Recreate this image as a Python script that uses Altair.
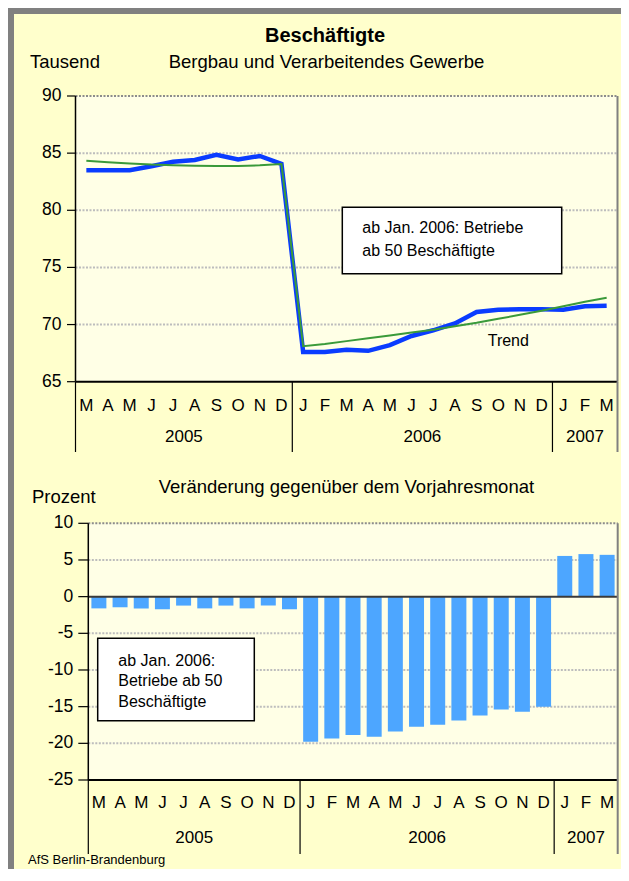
import altair as alt
import pandas as pd

FONT = "Liberation Sans"

# ---------------- data ----------------
months = ["M", "A", "M", "J", "J", "A", "S", "O", "N", "D",
          "J", "F", "M", "A", "M", "J", "J", "A", "S", "O", "N", "D",
          "J", "F", "M"]
years = ["2005", "2006", "2007"]
year_start = [0, 10, 22]
year_end = [10, 22, 25]

employed = [83.5, 83.5, 83.5, 83.85, 84.25, 84.4, 84.85, 84.45, 84.75, 84.05,
            67.6, 67.6, 67.8, 67.7, 68.2, 69.0, 69.5, 70.1, 71.1, 71.3, 71.35, 71.35,
            71.3, 71.6, 71.65]
trend = [84.33, 84.2, 84.1, 84.0, 83.95, 83.9, 83.88, 83.88, 83.93, 84.05,
         68.1, 68.3, 68.55, 68.8, 69.05, 69.3, 69.55, 69.85, 70.15, 70.5, 70.85, 71.2,
         71.6, 72.0, 72.35]
change = [-1.6, -1.45, -1.6, -1.72, -1.22, -1.6, -1.22, -1.6, -1.22, -1.72,
          -19.8, -19.35, -18.85, -19.1, -18.4, -17.75, -17.45, -16.9, -16.2, -15.4, -15.7, -15.0,
          5.55, 5.8, 5.7]

top_ticks = [65, 70, 75, 80, 85, 90]
bottom_ticks = [-25, -20, -15, -10, -5, 0, 5, 10]

# ---------------- frames ----------------
n = len(months)
top_df = pd.DataFrame({
    "pos": [i + 0.5 for i in range(n)],
    "month": months,
    "employed": employed,
    "trend": trend,
})
bot_df = pd.DataFrame({
    "x0": [i + 0.146 for i in range(n)],
    "x1": [i + 0.854 for i in range(n)],
    "change": change,
    "zero": [0] * n,
})
year_df = pd.DataFrame({
    "year": years,
    "mid": [(a + b) / 2 for a, b in zip(year_start, year_end)],
})

W, H = 613, 861

top_x = alt.Scale(domain=[0, n], range=[67.5, 609.5], nice=False, zero=False, padding=0)
top_y = alt.Scale(domain=[65, 90], range=[373.7, 88], nice=False, zero=False, padding=0)
bot_x = alt.Scale(domain=[0, n], range=[80.3, 609.7], nice=False, zero=False, padding=0)
bot_y = alt.Scale(domain=[-25, 10], range=[772, 515.3], nice=False, zero=False, padding=0)


def panel(xs, ys, ymin, ymax, ticks, axis_px, tick_len, label_px, base_px, month_px, year_px, sep_end_px):
    bg = alt.Chart(pd.DataFrame({"x0": [0], "x1": [n], "y0": [ymin], "y1": [ymax]})).mark_rect(
        color="#FFFFE6").encode(
        x=alt.X("x0:Q", scale=xs, axis=None), x2="x1:Q",
        y=alt.Y("y0:Q", scale=ys, axis=None), y2="y1:Q")
    inner = [t for t in ticks if t not in (ymin, ymax, 0)]
    grid = alt.Chart(pd.DataFrame({"y": inner, "x0": [0] * len(inner), "x1": [n] * len(inner)})).mark_rule(
        color="#BDBDBD", strokeWidth=2, strokeDash=[2, 1.5]).encode(
        x=alt.X("x0:Q", scale=xs, axis=None), x2="x1:Q",
        y=alt.Y("y:Q", scale=ys, axis=None))
    topline = alt.Chart(pd.DataFrame({"y": [ymax], "x0": [0], "x1": [n]})).mark_rule(
        color="#8C8C8C", strokeWidth=2, strokeDash=[2, 1.5]).encode(
        x=alt.X("x0:Q", scale=xs, axis=None), x2="x1:Q",
        y=alt.Y("y:Q", scale=ys, axis=None))
    baseline = alt.Chart(pd.DataFrame({"y": [ymin], "x0": [0], "x1": [n]})).mark_rule(
        color="black", strokeWidth=2).encode(
        x=alt.X("x0:Q", scale=xs, axis=None), x2="x1:Q",
        y=alt.Y("y:Q", scale=ys, axis=None))
    yline = alt.Chart(pd.DataFrame({"x": [0], "y0": [ymin], "y1": [ymax]})).mark_rule(
        color="black", strokeWidth=1.5).encode(
        x=alt.X("x:Q", scale=xs, axis=None),
        y=alt.Y("y0:Q", scale=ys, axis=None), y2="y1:Q")
    tick_df = pd.DataFrame({"v": ticks, "lab": [str(t) for t in ticks]})
    yticks = alt.Chart(tick_df).mark_rule(color="black", strokeWidth=1.2).encode(
        x=alt.value(axis_px - tick_len), x2=alt.value(axis_px),
        y=alt.Y("v:Q", scale=ys, axis=None))
    ylabels = alt.Chart(tick_df).mark_text(
        font=FONT, fontSize=17.5, color="black", align="right", baseline="middle").encode(
        x=alt.value(label_px), y=alt.Y("v:Q", scale=ys, axis=None), text="lab:N")
    seps = alt.Chart(pd.DataFrame({"x": [0, 10, 22]})).mark_rule(
        color="black", strokeWidth=1.2).encode(
        x=alt.X("x:Q", scale=xs, axis=None), y=alt.value(base_px), y2=alt.value(sep_end_px))
    right = alt.Chart(pd.DataFrame({"x": [n], "y0": [ymin], "y1": [ymax]})).mark_rule(
        color="#808080", strokeWidth=2).encode(
        x=alt.X("x:Q", scale=xs, axis=None),
        y=alt.Y("y0:Q", scale=ys, axis=None), y2="y1:Q")
    right2 = alt.Chart(pd.DataFrame({"x": [n]})).mark_rule(
        color="#808080", strokeWidth=2).encode(
        x=alt.X("x:Q", scale=xs, axis=None), y=alt.value(base_px), y2=alt.value(sep_end_px))
    mlab = alt.Chart(pd.DataFrame({"pos": [i + 0.5 for i in range(n)], "month": months})).mark_text(
        font=FONT, fontSize=17, color="black", baseline="middle").encode(
        x=alt.X("pos:Q", scale=xs, axis=None), y=alt.value(month_px), text="month:N")
    ylab = alt.Chart(year_df).mark_text(
        font=FONT, fontSize=17, color="black", baseline="middle").encode(
        x=alt.X("mid:Q", scale=xs, axis=None), y=alt.value(year_px), text="year:N")
    back = [bg, grid, topline]
    front = [baseline, yline, yticks, ylabels, seps, right, right2, mlab, ylab]
    return back, front


# ---------------- top panel ----------------
t_back, t_front = panel(top_x, top_y, 65, 90, top_ticks, 67.5, 8.5, 53.5, 374, 398, 429, 444)
blue = alt.Chart(top_df).mark_line(color="#0A3CFF", strokeWidth=4.5).encode(
    x=alt.X("pos:Q", scale=top_x, axis=None), y=alt.Y("employed:Q", scale=top_y, axis=None))
green = alt.Chart(top_df).mark_line(color="#3A9A3A", strokeWidth=2).encode(
    x=alt.X("pos:Q", scale=top_x, axis=None), y=alt.Y("trend:Q", scale=top_y, axis=None))
top_layer = alt.layer(*t_back, blue, green, *t_front)

# ---------------- bottom panel ----------------
b_back, b_front = panel(bot_x, bot_y, -25, 10, bottom_ticks, 80.3, 10, 65.3, 772, 795, 830, 846)
bars = alt.Chart(bot_df).mark_bar(color="#4DA6FF").encode(
    x=alt.X("x0:Q", scale=bot_x, axis=None), x2="x1:Q",
    y=alt.Y("change:Q", scale=bot_y, axis=None), y2="zero:Q")
zero = alt.Chart(pd.DataFrame({"y": [0], "x0": [0], "x1": [n]})).mark_rule(
    color="#3A3A3A", strokeWidth=2).encode(
    x=alt.X("x0:Q", scale=bot_x, axis=None), x2="x1:Q",
    y=alt.Y("y:Q", scale=bot_y, axis=None))
bottom_layer = alt.layer(*b_back, bars, zero, *b_front)

# ---------------- frame & texts ----------------
one = pd.DataFrame({"a": [0]})
frame_top = alt.Chart(one).mark_rect(color="#808080").encode(
    x=alt.value(0), x2=alt.value(W), y=alt.value(0), y2=alt.value(6))
frame_left = alt.Chart(one).mark_rect(color="#808080").encode(
    x=alt.value(0), x2=alt.value(6), y=alt.value(0), y2=alt.value(H))


def label(text, x, y, size, align="left", weight="normal", baseline="alphabetic"):
    return alt.Chart(pd.DataFrame({"t": [text]})).mark_text(
        font=FONT, fontSize=size, fontWeight=weight, align=align, baseline=baseline,
        color="black").encode(x=alt.value(x), y=alt.value(y), text="t:N")


box_top = alt.Chart(one).mark_rect(fill="white", stroke="black", strokeWidth=1.5).encode(
    x=alt.value(334.3), x2=alt.value(553.7), y=alt.value(199.3), y2=alt.value(265.7))
box_bot = alt.Chart(one).mark_rect(fill="white", stroke="black", strokeWidth=1.5).encode(
    x=alt.value(89.7), x2=alt.value(246.3), y=alt.value(630.3), y2=alt.value(712.7))

texts = [
    label("Beschäftigte", 317, 34, 20, align="center", weight="bold"),
    label("Tausend", 22, 60, 18.5),
    label("Bergbau und Verarbeitendes Gewerbe", 318.5, 60, 18.5, align="center"),
    label("Prozent", 24, 495, 18.5),
    label("Veränderung gegenüber dem Vorjahresmonat", 338.4, 485, 18.5, align="center"),
    label("AfS Berlin-Brandenburg", 20, 856, 13),
    label("ab Jan. 2006: Betriebe", 354.3, 220, 16, baseline="middle"),
    label("ab 50 Beschäftigte", 354.3, 243, 16, baseline="middle"),
    label("Trend", 479.7, 332.7, 16, baseline="middle"),
    label("ab Jan. 2006:", 110.3, 652.7, 16, baseline="middle"),
    label("Betriebe ab 50", 110.3, 673, 16, baseline="middle"),
    label("Beschäftigte", 110.3, 694.3, 16, baseline="middle"),
]

chart = alt.layer(
    frame_top, frame_left, top_layer, bottom_layer, box_top, box_bot, *texts
).resolve_scale(x="independent", y="independent").properties(
    width=W, height=H, autosize=alt.AutoSizeParams(type="none"), padding=0
).configure(background="#FFFFCC").configure_view(strokeWidth=0)

chart.save("out.html", embed_options={"renderer": "svg", "actions": False})
